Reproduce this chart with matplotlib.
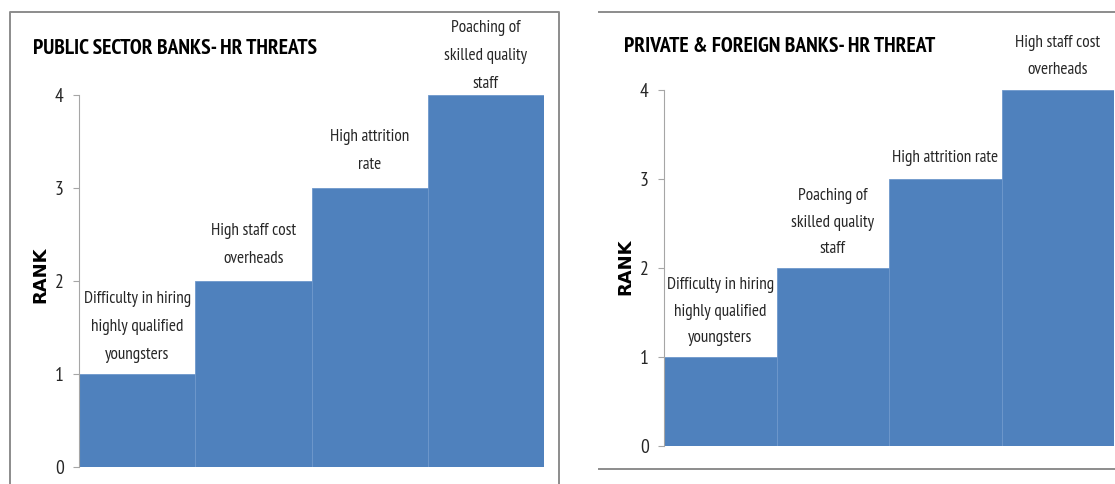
import matplotlib
matplotlib.use("Agg")
import matplotlib.pyplot as plt
from matplotlib.lines import Line2D

# Ranked HR threats per bank group
public_threats = [
    "Difficulty in hiring\nhighly qualified\nyoungsters",
    "High staff cost\noverheads",
    "High attrition\nrate",
    "Poaching of\nskilled quality\nstaff",
]
public_rank = [1, 2, 3, 4]

private_threats = [
    "Difficulty in hiring\nhighly qualified\nyoungsters",
    "Poaching of\nskilled quality\nstaff",
    "High attrition rate",
    "High staff cost\noverheads",
]
private_rank = [1, 2, 3, 4]

y_ticks = [0, 1, 2, 3, 4]

NARROW = ["PT Sans Narrow", "Archivo Narrow", "DejaVu Sans"]
BAR_COLOR = "#4F81BD"
FRAME = "#8c8c8c"
TEXT = "#262626"

W, H = 1115, 484
fig = plt.figure(figsize=(W / 100, H / 100), dpi=100)


def px_axes(x0, x1, y_top, y_bot):
    return fig.add_axes([x0 / W, 1 - y_bot / H, (x1 - x0) / W, (y_bot - y_top) / H])


def draw_panel(ax, labels, ranks, title, title_xy, ylabel_xy, offsets, spacing):
    x = list(range(len(ranks)))
    ax.bar(x, ranks, width=1.0, align="edge", color=BAR_COLOR,
           edgecolor="#6f98cc", linewidth=0.6, zorder=2)
    ax.set_xlim(0, len(ranks))
    ax.set_ylim(0, 4)
    ax.set_yticks(y_ticks)
    ax.set_yticklabels([str(t) for t in y_ticks], family=NARROW,
                       fontsize=14, color=TEXT)
    ax.set_xticks([])
    for s in ("top", "right", "bottom"):
        ax.spines[s].set_visible(False)
    ax.spines["left"].set_color("#a6a6a6")
    ax.spines["left"].set_linewidth(0.8)
    ax.tick_params(axis="y", length=4, width=0.8, color="#a6a6a6", pad=7)
    ax.patch.set_alpha(0)
    for xi, (lab, r) in enumerate(zip(labels, ranks)):
        ax.annotate(lab, xy=(xi + 0.5, r), xytext=(0, offsets[xi]),
                    textcoords="offset points", ha="center", va="bottom",
                    family=NARROW, fontsize=12.3, color=TEXT,
                    linespacing=spacing, annotation_clip=False)
    fig.text(title_xy[0] / W, 1 - title_xy[1] / H, title, family=NARROW,
             fontweight="bold", fontsize=15.5, ha="left", va="center",
             color="black")
    fig.text(ylabel_xy[0] / W, 1 - ylabel_xy[1] / H, "RANK",
             family="DejaVu Sans", fontweight="bold", fontsize=13,
             rotation=90, ha="center", va="center", color="black")


ax1 = px_axes(79, 544, 95, 467)
draw_panel(ax1, public_threats, public_rank,
           "PUBLIC SECTOR BANKS- HR THREATS", (33, 48), (40, 275),
           offsets=[8, 10, 11, 2], spacing=2.0)

ax2 = px_axes(664, 1114, 90, 446)
draw_panel(ax2, private_threats, private_rank,
           "PRIVATE & FOREIGN BANKS- HR THREAT", (624, 47), (625, 267),
           offsets=[8, 8, 9, 9], spacing=1.85)


# Chart frames
def fig_line(xs, ys):
    fig.add_artist(Line2D([x / W for x in xs], [1 - y / H for y in ys],
                          color=FRAME, linewidth=1.4))


fig_line([10, 10, 559, 559], [H + 5, 12, 12, H + 5])
fig_line([599, W + 2], [12, 12])
fig_line([599, W + 2], [469, 469])

fig.savefig("out.png", dpi=100, facecolor="white")
